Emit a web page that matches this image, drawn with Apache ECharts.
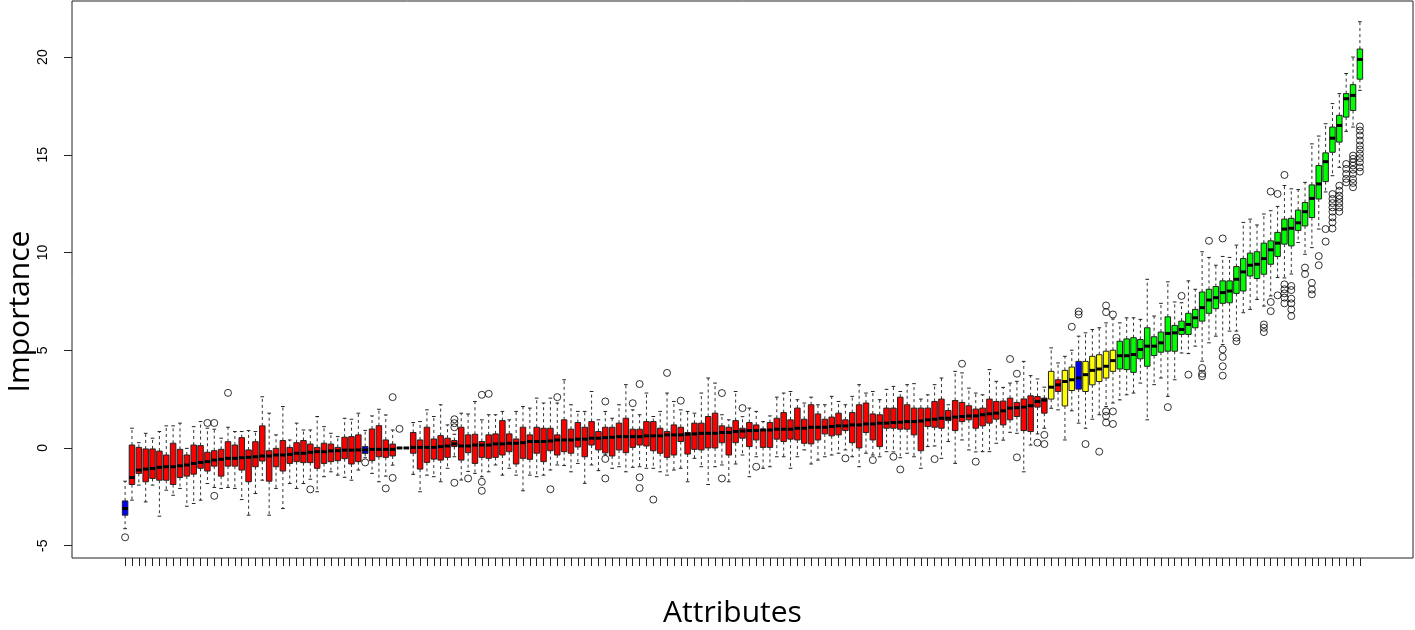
<!DOCTYPE html>
<html>
<head>
<meta charset="utf-8">
<title>Boruta importance</title>
<script src="https://cdn.jsdelivr.net/npm/echarts@6.0.0/dist/echarts.min.js"></script>
<style>
    html, body { margin: 0; padding: 0; background: #fff; }
    #main { width: 1415px; height: 630px; }
</style>
</head>
<body>
<div id="main"></div>
<script>
// box statistics per attribute, sorted by median (1..181)
var lo = [
    -4.13, -2.67, -1.90, -2.76, -1.90, -3.49, -2.16, -2.42, -2.07, -2.98,
    -2.84, -2.67, -1.82, -2.02, -2.07, -2.02, -2.07, -2.64, -3.44, -2.33,
    -1.65, -3.44, -2.07, -3.10, -1.82, -2.07, -1.82, -1.60, -2.24, -1.47,
    -1.22, -1.39, -1.50, -1.65, -1.13, -0.50, -1.30, -1.73, -1.44, -0.88,
    0, 0, -1.35, -2.24, -1.39, -1.47, -1.73, -1.04, -0.45, -1.64,
    -1.20, -1.30, -1.47, -1.22, -0.87, -1.39, -1.04, -1.39, -2.19, -1.39,
    -1.47, -1.39, -1.13, -0.87, -0.90, -1.22, -0.79, -1.81, -0.87, -1.16,
    -0.35, -1.04, -0.96, -1.22, -0.99, -0.96, -1.04, -1.04, -1.22, -1.39,
    -1.13, -1.04, -1.73, -0.53, -0.96, -1.87, -0.96, -0.87, -1.73, -0.82,
    -0.36, -1.47, -0.45, -1.04, -0.96, -0.45, -0.45, -1.04, -0.45, -0.10,
    -0.82, -0.62, -0.45, -0.36, -0.27, -0.10, -0.45, -0.96, -0.27, -0.36,
    -0.45, -0.19, -0.20, -0.50, -0.27, -0.45, -1.04, 0.07, 0.10, -0.53,
    0.33, -0.79, 0.41, -0.10, -0.20, -0.19, -0.19, 0.24, 0.40, 0.80,
    0.75, -1.22, 0.15, 0.72, 1.01, 2.03, 1.95, 0.41, 1.90, 1.27,
    1.01, 1.47, 1.70, 2.12, 2.30, 2.46, 2.72, 2.81, 3.32, 1.44,
    3.24, 3.58, 2.64, 3.49, 4.86, 4.83, 5.21, 4.44, 5.38, 5.72,
    5.29, 5.98, 5.98, 6.92, 7.09, 7.60, 7.26, 7.78, 8.72, 8.70,
    8.90, 10.51, 9.91, 10.25, 11.20, 13.10, 13.93, 14.36, 16.20, 16.42, 18.30
];
var q1 = [
    -3.44, -1.87, -1.30, -1.73, -1.56, -1.65, -1.65, -1.87, -1.51, -1.44,
    -1.34, -1.04, -1.18, -0.93, -1.44, -0.93, -0.93, -1.13, -1.73, -0.96,
    -0.67, -1.70, -0.96, -1.18, -0.79, -0.70, -0.75, -0.75, -1.04, -0.79,
    -0.70, -0.65, -0.55, -0.82, -0.70, -0.28, -0.65, -0.45, -0.48, -0.41,
    0, 0, -0.27, -1.08, -0.74, -0.57, -0.62, -0.48, 0.07, -0.62,
    -0.24, -0.79, -0.48, -0.53, -0.48, -0.36, -0.19, -0.82, -0.53, -0.58,
    -0.27, -0.70, -0.14, -0.36, -0.19, -0.27, 0.05, -0.45, 0.15, -0.10,
    -0.25, -0.41, -0.10, -0.24, 0.03, 0.15, 0.10, -0.14, -0.27, -0.48,
    -0.36, 0.33, -0.31, -0.07, -0.10, 0.00, 0.00, 0.27, -0.36, 0.27,
    0.50, 0.07, 0.41, 0.03, 0.03, 0.45, 0.33, 0.45, 0.41, 0.24,
    0.21, 0.41, 0.72, 0.62, 0.67, 0.89, 0.27, 0.00, 0.79, 0.41,
    0.07, 1.01, 1.01, 0.96, 0.96, 0.67, -0.14, 1.10, 1.06, 1.01,
    1.40, 0.89, 1.35, 1.44, 1.01, 1.13, 1.27, 1.47, 1.18, 1.44,
    1.61, 0.89, 0.84, 2.09, 1.78, 2.50, 2.89, 2.15, 2.94, 3.01,
    2.89, 3.23, 3.40, 3.58, 3.92, 4.04, 4.01, 3.87, 4.56, 4.18,
    4.73, 4.90, 4.95, 4.95, 5.81, 5.81, 6.15, 6.49, 6.89, 7.13,
    7.40, 7.43, 7.91, 8.03, 8.80, 8.67, 8.89, 9.40, 9.80, 10.43,
    10.34, 11.13, 11.36, 11.79, 12.74, 13.63, 15.13, 15.65, 16.93, 17.27, 18.87
];
var med = [
    -3.10, -1.51, -1.13, -1.08, -1.05, -0.99, -0.96, -0.96, -0.91, -0.87,
    -0.79, -0.74, -0.70, -0.62, -0.58, -0.53, -0.53, -0.50, -0.48, -0.45,
    -0.41, -0.41, -0.36, -0.36, -0.33, -0.27, -0.27, -0.22, -0.19, -0.19,
    -0.15, -0.14, -0.11, -0.11, -0.10, -0.10, -0.07, -0.07, -0.07, -0.07,
    0, 0, 0.03, 0.03, 0.03, 0.03, 0.07, 0.10, 0.21, 0.10,
    0.10, 0.15, 0.15, 0.15, 0.21, 0.21, 0.24, 0.24, 0.27, 0.33,
    0.33, 0.33, 0.36, 0.41, 0.41, 0.41, 0.45, 0.45, 0.50, 0.50,
    0.53, 0.55, 0.58, 0.58, 0.58, 0.58, 0.62, 0.62, 0.62, 0.67,
    0.67, 0.67, 0.70, 0.72, 0.75, 0.75, 0.75, 0.79, 0.79, 0.84,
    0.87, 0.89, 0.89, 0.92, 0.92, 0.96, 0.96, 0.96, 1.01, 1.01,
    1.06, 1.06, 1.06, 1.10, 1.13, 1.13, 1.18, 1.18, 1.23, 1.23,
    1.27, 1.27, 1.30, 1.32, 1.35, 1.35, 1.38, 1.44, 1.47, 1.52,
    1.52, 1.58, 1.61, 1.64, 1.64, 1.70, 1.75, 1.78, 1.90, 2.04,
    2.06, 2.09, 2.16, 2.38, 2.45, 3.11, 3.23, 3.40, 3.49, 3.58,
    3.75, 3.97, 4.04, 4.18, 4.47, 4.72, 4.72, 4.78, 5.04, 5.21,
    5.21, 5.38, 5.86, 5.89, 6.06, 6.32, 6.66, 7.18, 7.57, 7.69,
    7.95, 8.03, 8.63, 9.01, 9.35, 9.40, 9.69, 10.14, 10.48, 11.20,
    11.24, 11.52, 12.09, 12.77, 13.51, 14.65, 15.85, 16.50, 17.87, 18.04, 19.88
];
var q3 = [
    -2.71, 0.15, 0.03, -0.05, -0.05, -0.16, -0.36, 0.24, -0.07, -0.36,
    0.15, 0.12, -0.22, -0.14, -0.07, 0.32, 0.15, 0.53, -0.10, 0.32,
    1.13, -0.14, -0.02, 0.38, 0.03, 0.27, 0.38, 0.20, 0.03, 0.24,
    0.20, 0.03, 0.55, 0.58, 0.67, 0.07, 0.97, 1.14, 0.41, 0.20,
    0, 0, 0.79, 0.41, 1.06, 0.46, 0.63, 0.50, 0.38, 1.06,
    0.67, 0.70, 0.33, 0.67, 0.72, 1.40, 0.72, 0.46, 1.06, 0.67,
    1.06, 1.01, 1.01, 0.67, 1.44, 0.96, 1.30, 1.06, 1.35, 0.84,
    1.06, 1.06, 1.27, 1.52, 0.96, 0.96, 1.35, 1.35, 1.01, 0.84,
    1.18, 1.06, 0.79, 1.27, 1.27, 1.61, 1.78, 1.13, 1.06, 1.40,
    1.01, 1.30, 1.18, 0.96, 1.30, 1.52, 1.81, 1.44, 2.04, 1.47,
    2.21, 1.74, 1.47, 1.58, 1.78, 1.44, 1.81, 2.21, 2.30, 1.74,
    1.70, 2.04, 2.04, 2.60, 2.21, 2.04, 2.04, 2.04, 2.38, 2.50,
    1.92, 2.43, 2.33, 2.16, 1.99, 2.04, 2.50, 2.38, 2.40, 2.55,
    2.33, 2.51, 2.67, 2.63, 2.55, 3.92, 3.49, 3.97, 4.14, 4.43,
    4.43, 4.69, 4.77, 4.95, 5.00, 5.46, 5.58, 5.64, 5.55, 6.15,
    5.69, 5.93, 6.71, 6.27, 6.49, 6.89, 7.09, 7.98, 8.12, 8.26,
    8.55, 8.55, 9.28, 9.69, 9.97, 10.04, 10.48, 10.60, 11.03, 11.71,
    11.75, 12.17, 12.56, 13.46, 14.45, 15.10, 16.42, 17.02, 18.13, 18.59, 20.41
];
var hi = [
    -1.70, 1.01, 0.27, 0.75, 0.50, 0.84, 1.13, 1.13, 1.27, -0.02,
    1.09, 1.35, 1.01, 0.96, 0.50, 1.06, 0.84, 0.84, 0.89, 0.84,
    2.62, 1.78, 0.67, 2.12, 0.41, 1.27, 0.92, 0.92, 1.61, 1.09,
    0.75, 0.58, 1.52, 1.47, 1.78, 0.90, 1.64, 1.98, 1.69, 0.92,
    0, 0, 1.30, 1.35, 1.95, 1.61, 2.21, 1.18, 0.70, 1.78,
    1.74, 2.38, 1.44, 1.70, 1.70, 1.87, 1.44, 1.87, 2.12, 2.04,
    2.55, 2.30, 2.55, 2.30, 3.49, 2.21, 1.87, 1.87, 2.89, 1.44,
    1.87, 1.52, 2.21, 3.24, 1.95, 1.70, 2.81, 1.61, 1.87, 2.81,
    2.38, 1.95, 1.87, 1.78, 2.81, 3.58, 3.32, 1.70, 1.44, 2.89,
    1.60, 2.04, 1.87, 1.35, 1.64, 2.60, 2.81, 2.89, 2.47, 2.30,
    2.60, 2.21, 2.21, 2.64, 2.38, 2.21, 2.64, 3.24, 2.81, 2.89,
    2.47, 3.00, 3.15, 2.89, 3.24, 3.29, 2.50, 2.72, 3.24, 3.58,
    2.21, 3.92, 3.84, 3.06, 2.81, 2.72, 4.01, 3.41, 3.10, 3.32,
    3.41, 4.43, 3.70, 3.53, 3.11, 5.12, 4.35, 4.69, 5.00, 5.72,
    5.89, 6.06, 6.15, 6.40, 6.60, 6.40, 6.66, 6.66, 6.58, 8.63,
    6.75, 7.40, 8.50, 7.47, 7.43, 8.55, 8.12, 10.04, 9.75, 9.35,
    9.80, 9.75, 10.38, 11.54, 11.71, 11.41, 11.97, 12.14, 12.36, 13.43,
    13.26, 13.22, 13.59, 15.56, 15.96, 16.59, 17.62, 18.13, 19.16, 20.00, 21.81
];

// [attribute index, value]
var outliers = [
    [1, -4.57], [13, 1.28], [14, 1.28], [14, -2.45], [16, 2.82], [28, -2.12], [36, -0.74],
    [39, -2.07], [40, 2.60], [40, -1.53], [41, 0.98], [49, 1.47], [49, 1.27], [49, 1.06],
    [49, -1.78], [51, -1.56], [53, 2.72], [53, -1.73], [53, -2.19], [54, 2.77], [63, -2.11],
    [64, 2.60], [71, 2.38], [71, -0.56], [71, -1.56], [75, 2.29], [76, 3.27], [76, -1.50],
    [76, -2.05], [78, -2.64], [80, 3.84], [82, 2.42], [88, 2.81], [88, -1.56], [91, 2.04],
    [93, -0.96], [106, -0.53], [110, -0.62], [113, -0.45], [114, -1.10], [119, -0.57],
    [123, 4.31], [125, -0.70], [130, 4.55], [131, 3.80], [131, -0.48], [134, 0.27],
    [135, 0.67], [135, 0.20], [139, 6.20], [140, 6.98], [140, 6.83], [141, 0.20],
    [143, -0.19], [144, 7.29], [144, 6.95], [144, 1.87], [144, 1.64], [144, 1.30],
    [145, 6.83], [145, 1.87], [145, 1.23], [153, 2.09], [155, 7.78], [156, 3.75],
    [158, 4.09], [158, 3.80], [158, 3.67], [159, 10.60], [161, 10.72], [161, 5.04],
    [161, 4.66], [161, 4.18], [161, 3.70], [163, 5.64], [163, 5.46], [167, 6.32],
    [167, 6.15], [167, 5.93], [168, 13.12], [168, 7.47], [168, 7.00], [169, 13.00],
    [169, 7.81], [170, 13.97], [170, 8.37], [170, 8.12], [170, 7.91], [170, 7.69],
    [170, 7.40], [171, 8.29], [171, 8.08], [171, 7.64], [171, 7.40], [171, 7.09],
    [171, 6.75], [173, 9.23], [173, 8.90], [174, 8.45], [174, 8.11], [174, 7.86],
    [175, 9.82], [175, 9.35], [176, 11.20], [176, 10.56],
    [177, 12.99], [177, 12.74], [177, 12.53], [177, 12.31], [177, 12.09], [177, 11.80], [177, 11.54], [177, 11.23],
    [178, 13.42], [178, 13.16], [178, 12.91], [178, 12.74], [178, 12.53], [178, 12.31], [178, 12.09],
    [179, 14.53], [179, 14.28], [179, 14.02], [179, 13.77], [179, 13.59],
    [180, 14.96], [180, 14.79], [180, 14.62], [180, 14.45], [180, 14.24], [180, 14.02], [180, 13.76], [180, 13.56], [180, 13.34],
    [181, 16.45], [181, 16.24], [181, 15.99], [181, 15.73], [181, 15.48], [181, 15.27], [181, 15.05], [181, 14.83], [181, 14.62], [181, 14.36], [181, 14.14]
];

// Boruta decisions
var shadowIdx = [1, 36, 140];
var tentativeIdx = [136, 138, 139, 141, 142, 143, 144, 145];
var firstConfirmed = 146;

var yTicks = [-5, 0, 5, 10, 15, 20];

function boxColor(i) {
    if (shadowIdx.indexOf(i) >= 0) return '#0000ff';
    if (tentativeIdx.indexOf(i) >= 0) return '#ffff00';
    if (i >= firstConfirmed) return '#00ff00';
    return '#ff0000';
}

var boxes = [];
var xTicks = [];
for (var i = 0; i < med.length; i++) {
    boxes.push([i + 1, lo[i], q1[i], med[i], q3[i], hi[i]]);
    xTicks.push(i + 1);
}

function renderBox(params, api) {
    var x = api.value(0);
    var pLo = api.coord([x, api.value(1)]);
    var pQ1 = api.coord([x, api.value(2)]);
    var pMd = api.coord([x, api.value(3)]);
    var pQ3 = api.coord([x, api.value(4)]);
    var pHi = api.coord([x, api.value(5)]);
    var w = api.size([0.8, 0])[0];
    var cx = pMd[0];
    var cap = w / 3;
    var dash = { stroke: '#333', lineWidth: 1, lineDash: [3, 3] };
    var solid = { stroke: '#222', lineWidth: 1 };
    return {
        type: 'group',
        children: [
            { type: 'line', shape: { x1: cx, y1: pQ3[1], x2: cx, y2: pHi[1] }, style: dash },
            { type: 'line', shape: { x1: cx, y1: pQ1[1], x2: cx, y2: pLo[1] }, style: dash },
            { type: 'line', shape: { x1: cx - cap, y1: pHi[1], x2: cx + cap, y2: pHi[1] }, style: solid },
            { type: 'line', shape: { x1: cx - cap, y1: pLo[1], x2: cx + cap, y2: pLo[1] }, style: solid },
            { type: 'rect', shape: { x: cx - w / 2, y: pQ3[1], width: w, height: pQ1[1] - pQ3[1] },
              style: { fill: boxColor(x), stroke: '#222', lineWidth: 1 } },
            { type: 'line', shape: { x1: cx - w / 2, y1: pMd[1], x2: cx + w / 2, y2: pMd[1] },
              style: { stroke: '#000', lineWidth: 3 } }
        ]
    };
}

var myChart = echarts.init(document.getElementById('main'));

var option = {
    animation: false,
    backgroundColor: '#fff',
    grid: {
        left: 72, right: 2, top: 1, bottom: 72,
        outerBoundsMode: 'none',
        containLabel: false,
        show: true, borderColor: '#222', borderWidth: 1, backgroundColor: 'transparent'
    },
    xAxis: {
        type: 'value',
        min: -6.74,
        max: 188.74,
        name: 'Attributes',
        nameLocation: 'middle',
        nameGap: 40,
        nameTextStyle: { fontFamily: 'Open Sans', fontSize: 30, color: '#000', padding: [0, 20, 0, 0] },
        axisLine: { show: false, onZero: false },
        axisTick: { show: true, customValues: xTicks, length: 8, lineStyle: { color: '#222' } },
        axisLabel: { show: false },
        splitLine: { show: false }
    },
    yAxis: {
        type: 'value',
        min: -5.63,
        max: 22.87,
        name: 'Importance',
        nameLocation: 'middle',
        nameGap: 37,
        nameMoveOverlap: false,
        nameTextStyle: { fontFamily: 'Open Sans', fontSize: 30, color: '#000', padding: [0, 64, 0, 0] },
        axisLine: { show: false, onZero: false },
        axisTick: { show: true, customValues: yTicks, length: 8, lineStyle: { color: '#222' } },
        axisLabel: {
            customValues: yTicks, rotate: 90, margin: 22,
            fontFamily: 'Liberation Sans', fontSize: 14, color: '#000'
        },
        splitLine: { show: false }
    },
    series: [
        {
            type: 'custom',
            renderItem: renderBox,
            encode: { x: 0, y: [1, 2, 3, 4, 5] },
            data: boxes
        },
        {
            type: 'scatter',
            symbol: 'circle',
            symbolSize: 7,
            itemStyle: { color: 'rgba(0,0,0,0)', borderColor: '#000', borderWidth: 1 },
            data: outliers
        }
    ]
};

myChart.setOption(option);
</script>
</body>
</html>
